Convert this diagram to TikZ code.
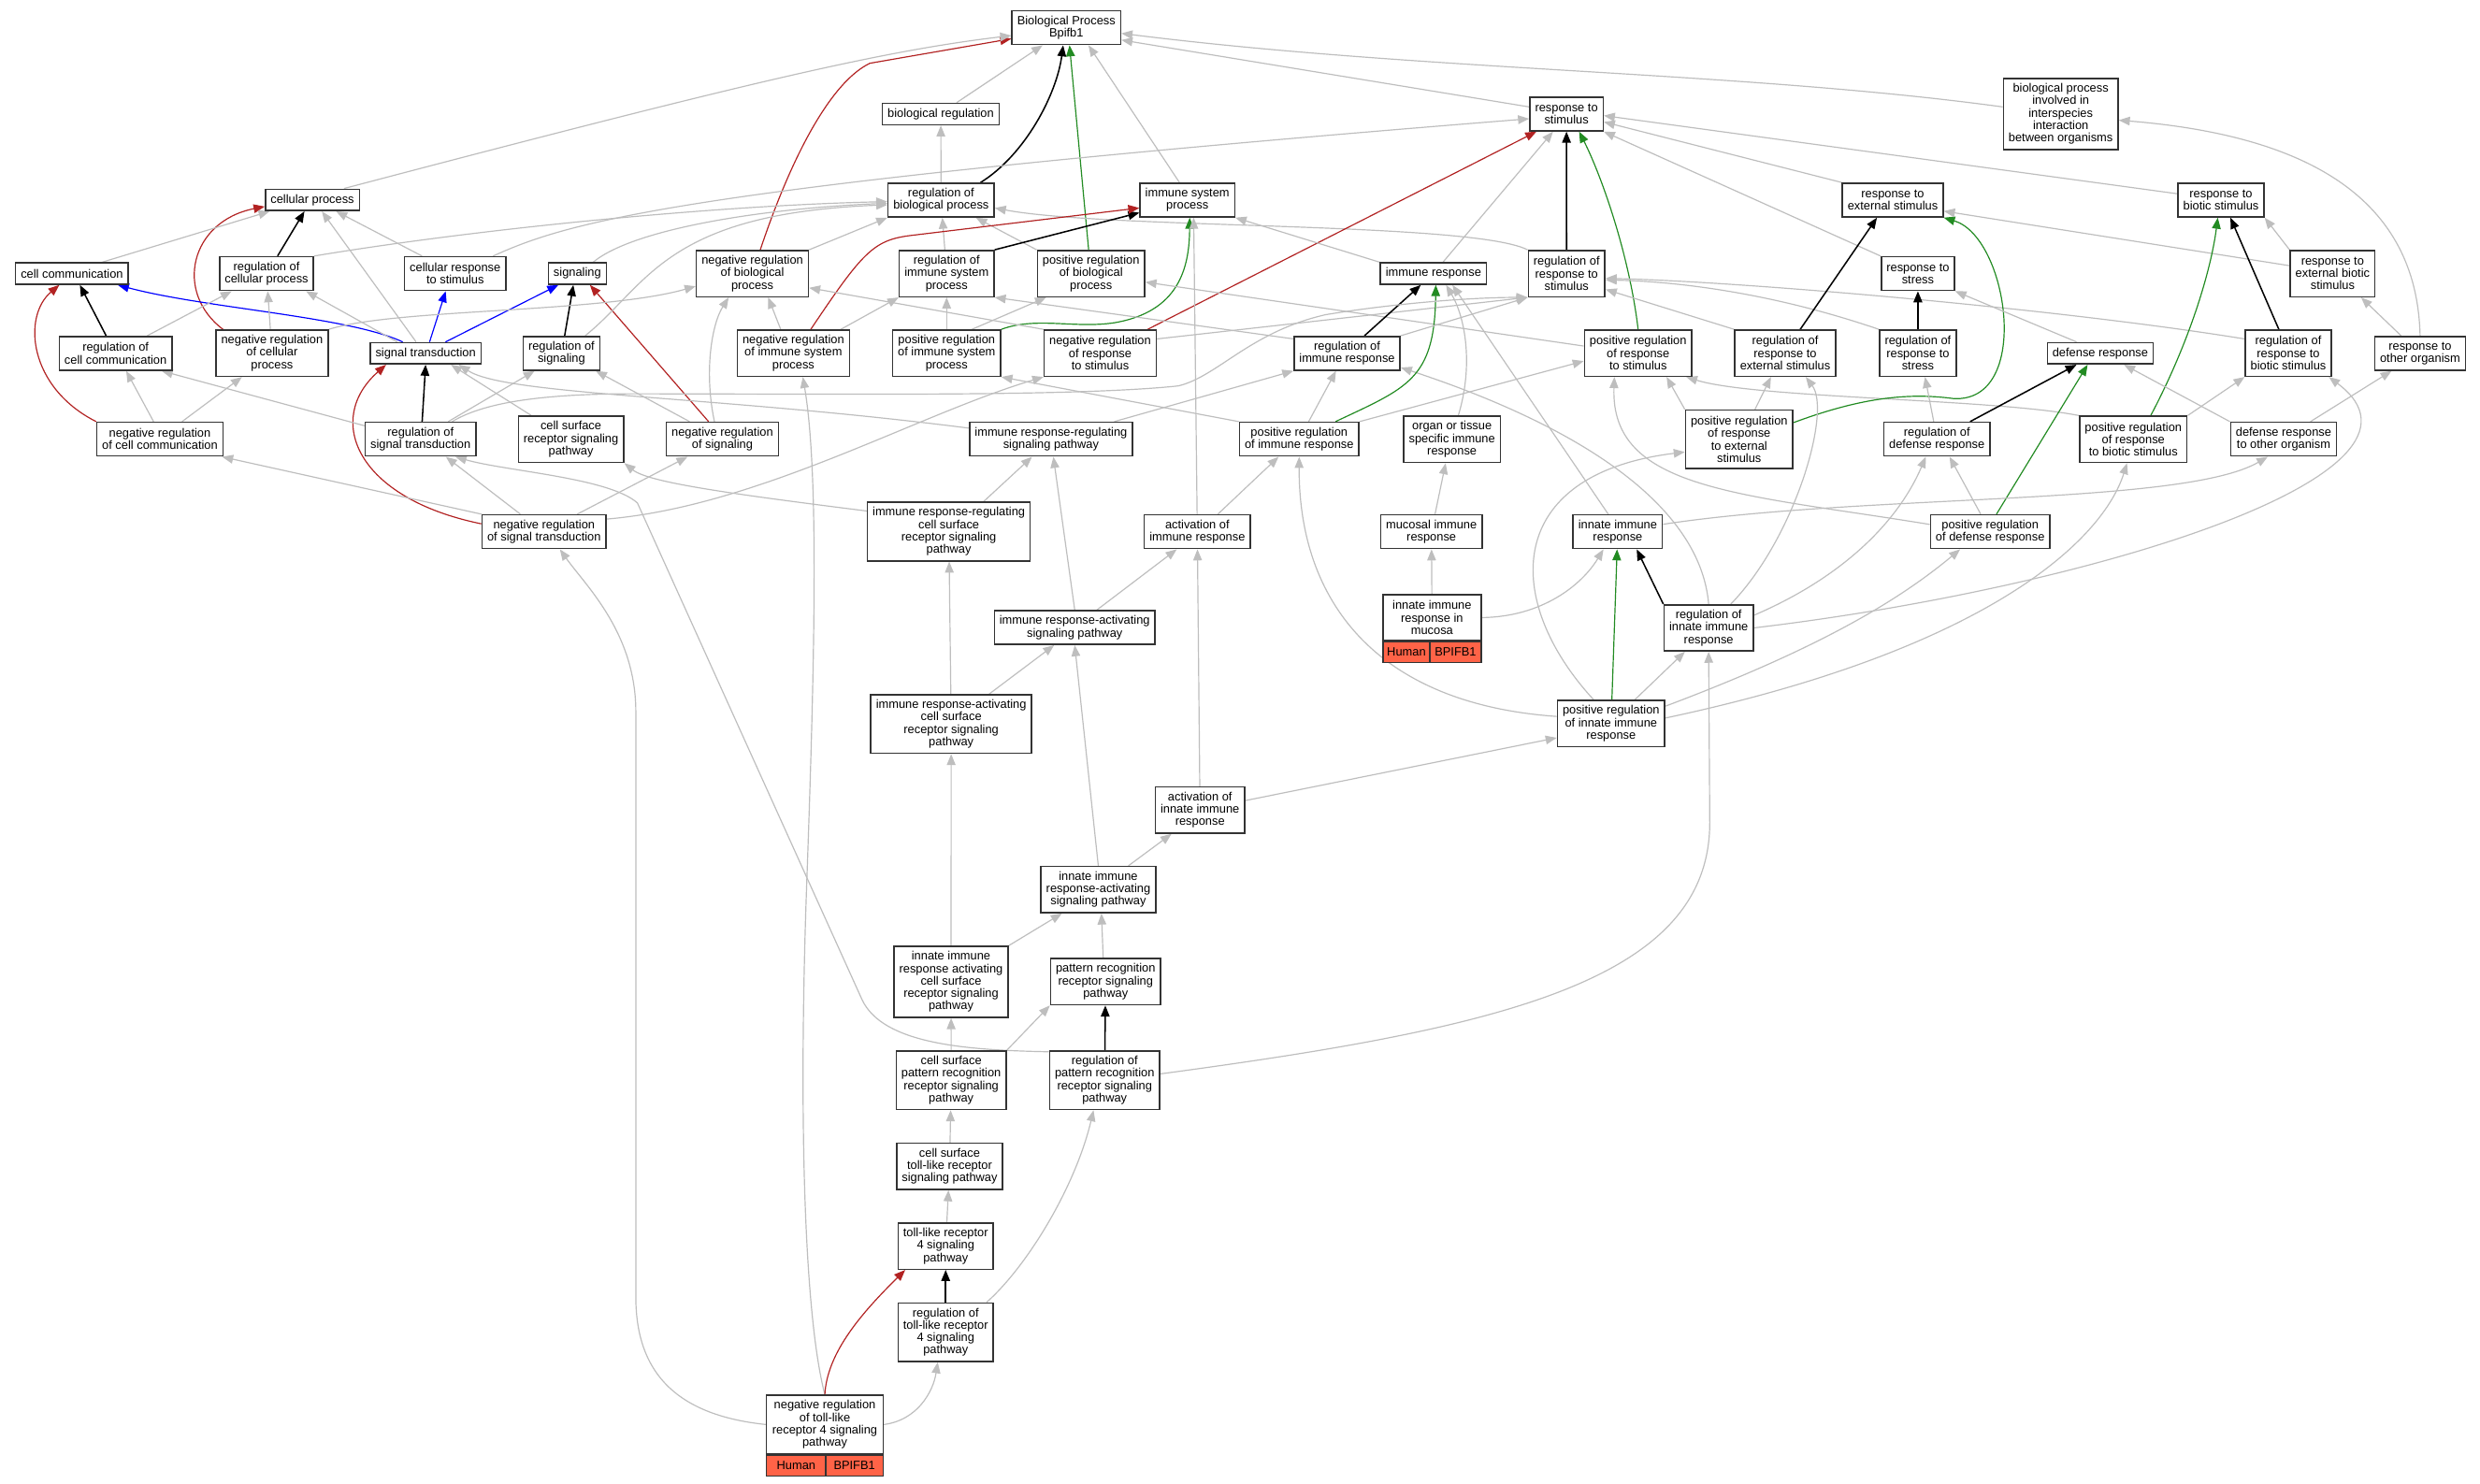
\documentclass[tikz,border=0pt]{standalone}
\usepackage{fontspec}
\setmainfont{Liberation Sans}
\usepackage{tikz}
\usetikzlibrary{shapes, arrows.meta, positioning, backgrounds}
\definecolor{isagray}{HTML}{BEBEBE}
\definecolor{negred}{HTML}{B22222}
\definecolor{posgreen}{HTML}{228B22}
\definecolor{hitred}{HTML}{FF6347}
\tikzstyle{term} = [draw=black!80, line width=0.9pt, fill=white, rectangle,
    align=center, inner xsep=3.3pt, inner ysep=0pt,
    font=\fontsize{7.6}{7.85}\selectfont]
\tikzstyle{one} = [term, minimum height=13.5pt]
\tikzstyle{two} = [term, minimum height=21.35pt]
\tikzstyle{three} = [term, minimum height=29.2pt]
\tikzstyle{four} = [term, minimum height=37.05pt]
\tikzstyle{five} = [term, minimum height=44.9pt]
\tikzstyle{hit} = [term, fill=hitred, inner xsep=1pt, minimum height=12.8pt]
\tikzstyle{isa} = [draw=isagray, line width=0.7pt, ->]
\tikzstyle{reg} = [draw=black, line width=0.9pt, ->]
\tikzstyle{negreg} = [draw=negred, line width=0.7pt, ->]
\tikzstyle{posreg} = [draw=posgreen, line width=0.7pt, ->]
\tikzstyle{partof} = [draw=blue, line width=0.7pt, ->]

\begin{document}
\begin{tikzpicture}[x=1pt, y=-1pt, >={Triangle[length=7pt, width=5.5pt]}]
    \useasboundingbox (0,0) rectangle (1568,938.3);
    \node [two] (bp) at (674.2,17.5) {Biological Process\\Bpifb1};
    \node [one] (breg) at (594.8,72.1) {biological regulation};
    \node [two] (rstim) at (990.4,72.1) {response to\\stimulus};
    \node [five] (inter) at (1302.9,72) {biological process\\involved in\\interspecies\\interaction\\between organisms};
    \node [one] (cellp) at (197.5,126.4) {cellular process};
    \node [two] (rbp) at (595,126.5) {regulation of\\biological process};
    \node [two] (isp) at (750.7,126.5) {immune system\\process};
    \node [two] (rext) at (1196.7,126.5) {response to\\external stimulus};
    \node [two] (rbio) at (1404.2,126.5) {response to\\biotic stimulus};
    \node [one] (ccom) at (45.5,173) {cell communication};
    \node [two] (rcp) at (168.5,173) {regulation of\\cellular process};
    \node [two] (crs) at (287.8,173) {cellular response\\to stimulus};
    \node [one] (sig) at (365,173) {signaling};
    \node [three] (nrbp) at (475.7,173) {negative regulation\\of biological\\process};
    \node [three] (risp) at (598.5,173) {regulation of\\immune system\\process};
    \node [three] (prbp) at (689.8,173) {positive regulation\\of biological\\process};
    \node [one] (ir) at (906.3,173) {immune response};
    \node [three] (rrs) at (990.5,173) {regulation of\\response to\\stimulus};
    \node [two] (rstress) at (1212.6,173) {response to\\stress};
    \node [three] (rextbio) at (1474.8,173) {response to\\external biotic\\stimulus};
    \node [two] (rcc) at (73.1,223.4) {regulation of\\cell communication};
    \node [three] (nrcp) at (172,223.3) {negative regulation\\of cellular\\process};
    \node [one] (st) at (269.1,223.4) {signal transduction};
    \node [two] (rsig) at (355,223.4) {regulation of\\signaling};
    \node [three] (nrisp) at (501.6,223.3) {negative regulation\\of immune system\\process};
    \node [three] (prisp) at (598.5,223.3) {positive regulation\\of immune system\\process};
    \node [three] (nrrs) at (695.6,223.3) {negative regulation\\of response\\to stimulus};
    \node [two] (rir) at (851.7,223.4) {regulation of\\immune response};
    \node [three] (prrs) at (1035.7,223.3) {positive regulation\\of response\\to stimulus};
    \node [three] (rrext) at (1128.7,223.3) {regulation of\\response to\\external stimulus};
    \node [three] (rrstress) at (1212.6,223.3) {regulation of\\response to\\stress};
    \node [one] (def) at (1327.9,223.4) {defense response};
    \node [three] (rrbio) at (1446.8,223.3) {regulation of\\response to\\biotic stimulus};
    \node [two] (roo) at (1530.1,223.4) {response to\\other organism};
    \node [two] (nrcc) at (101.1,277.7) {negative regulation\\of cell communication};
    \node [two] (rst) at (265.9,277.7) {regulation of\\signal transduction};
    \node [three] (csr) at (361,277.8) {cell surface\\receptor signaling\\pathway};
    \node [two] (nrsig) at (456.7,277.7) {negative regulation\\of signaling};
    \node [two] (irrsp) at (664.5,277.7) {immune response-regulating\\signaling pathway};
    \node [two] (prir) at (821.4,277.7) {positive regulation\\of immune response};
    \node [three] (organ) at (918,277.8) {organ or tissue\\specific immune\\response};
    \node [four] (prrext) at (1099.6,277.8) {positive regulation\\of response\\to external\\stimulus};
    \node [two] (rdef) at (1224.6,277.7) {regulation of\\defense response};
    \node [three] (prrbio) at (1348.8,277.8) {positive regulation\\of response\\to biotic stimulus};
    \node [two] (droo) at (1443.8,277.7) {defense response\\to other organism};
    \node [two] (nrst) at (344,336.2) {negative regulation\\of signal transduction};
    \node [four] (irrcs) at (599.9,336.1) {immune response-regulating\\cell surface\\receptor signaling\\pathway};
    \node [two] (air) at (757,336.2) {activation of\\immune response};
    \node [two] (mucosal) at (905,336.2) {mucosal immune\\response};
    \node [two] (iir) at (1022.8,336.2) {innate immune\\response};
    \node [two] (prdef) at (1258.3,336.2) {positive regulation\\of defense response};
    \node [two] (irasp) at (679.5,396.8) {immune response-activating\\signaling pathway};
    \node [three, minimum width=62.1pt] (iirm) at (905.4,390.5) {innate immune\\response in\\mucosa};
    \node [hit, anchor=north west, minimum width=29.7pt] (iirmH) at (iirm.south west) {Human};
    \node [hit, anchor=north east, minimum width=32.4pt] (iirmB) at (iirm.south east) {BPIFB1};
    \node [three] (riir) at (1080.3,397) {regulation of\\innate immune\\response};
    \node [four] (iracs) at (601.4,457.8) {immune response-activating\\cell surface\\receptor signaling\\pathway};
    \node [three] (priir) at (1018.6,457.5) {positive regulation\\of innate immune\\response};
    \node [three] (aiir) at (758.7,512.2) {activation of\\innate immune\\response};
    \node [three] (iirasp) at (694.4,562.5) {innate immune\\response-activating\\signaling pathway};
    \node [five] (iiracs) at (601.3,620.8) {innate immune\\response activating\\cell surface\\receptor signaling\\pathway};
    \node [three] (prr) at (699,620.7) {pattern recognition\\receptor signaling\\pathway};
    \node [four] (csprr) at (601.4,683) {cell surface\\pattern recognition\\receptor signaling\\pathway};
    \node [four] (rprr) at (698.4,683) {regulation of\\pattern recognition\\receptor signaling\\pathway};
    \node [three] (cstlr) at (600.4,737.5) {cell surface\\toll-like receptor\\signaling pathway};
    \node [three] (tlr4) at (597.9,787.9) {toll-like receptor\\4 signaling\\pathway};
    \node [four] (rtlr4) at (597.9,842.3) {regulation of\\toll-like receptor\\4 signaling\\pathway};
    \node [four, minimum width=73.7pt] (nrtlr4) at (521.5,900.7) {negative regulation\\of toll-like\\receptor 4 signaling\\pathway};
    \node [hit, anchor=north west, minimum width=37.4pt, minimum height=13.1pt] (nrtlr4H) at (nrtlr4.south west) {Human};
    \node [hit, anchor=north east, minimum width=36.3pt, minimum height=13.1pt] (nrtlr4B) at (nrtlr4.south east) {BPIFB1};

    \begin{scope}[on background layer]
    \fill [white] (0,0) rectangle (1568,938.3);
    \draw [isa] ([xshift=10pt]breg.north) -- ([xshift=-15pt]bp.south);
    \draw [reg] ([xshift=25pt]rbp.north) .. controls (648,98) and (668,60) .. ([xshift=-2pt]bp.south);
    \draw [posreg] ([xshift=-1.5pt]prbp.north) -- ([xshift=2pt]bp.south);
    \draw [isa] ([xshift=-5pt]isp.north) -- ([xshift=14pt]bp.south);
    \draw [negreg] ([xshift=5pt]nrbp.north) .. controls (500,100) and (525,52) .. (550,40) -- ([yshift=-7pt]bp.west);
    \draw [isa] ([xshift=20pt]cellp.north) .. controls (480,50) and (560,32) .. ([yshift=-5pt]bp.west);
    \draw [isa] ([yshift=4.5pt]rstim.west) -- ([yshift=-7.8pt]bp.east);
    \draw [isa] ([yshift=4.4pt]inter.west) .. controls (1100,45) and (900,45) .. ([yshift=-3.6pt]bp.east);
    \draw [isa] (rbp) -- (breg);
    \draw [reg] ([xshift=7pt]rcp.north) -- ([xshift=-5pt]cellp.south);
    \draw [negreg] ([xshift=-31pt]nrcp.north) .. controls (110,185) and (120,140) .. ([yshift=3pt]cellp.south west);
    \draw [isa] ([xshift=19pt]ccom.north) -- ([xshift=-27pt]cellp.south);
    \draw [isa] ([xshift=-21pt]crs.north) -- ([xshift=15pt]cellp.south);
    \draw [isa] ([xshift=-6pt]st.north) -- ([xshift=6pt]cellp.south);
    \draw [reg] ([xshift=-6pt]rcc.north) -- ([xshift=5pt]ccom.south);
    \draw [negreg] (nrcc.north west) .. controls (18,245) and (14,200) .. ([xshift=-8pt]ccom.south);
    \draw [partof] ([xshift=-14.5pt]st.north) .. controls (220,200) and (130,195) .. ([xshift=29pt]ccom.south);
    \draw [isa] (nrcp) -- (rcp);
    \draw [isa] ([xshift=20pt]rcc.north) -- ([xshift=-22pt]rcp.south);
    \draw [isa] ([xshift=-18pt]st.north) -- ([xshift=25pt]rcp.south);
    \draw [partof] ([xshift=2.5pt]st.north) -- ([xshift=-6pt]crs.south);
    \draw [partof] ([xshift=12.6pt]st.north) -- ([xshift=-12pt]sig.south);
    \draw [reg] ([xshift=2pt]rsig.north) -- ([xshift=-2.5pt]sig.south);
    \draw [negreg] ([xshift=-8.7pt]nrsig.north) -- ([xshift=8pt]sig.south);
    \draw [reg] ([xshift=1pt]rst.north) -- (st.south);
    \draw [negreg] ([yshift=5pt]nrst.west) .. controls (225,315) and (205,265) .. ([xshift=-25pt]st.south);
    \draw [isa] ([xshift=-25pt]csr.north) -- ([xshift=16pt]st.south);
    \draw [isa] ([yshift=7pt]irrsp.west) .. controls (450,250) and (320,250) .. ([xshift=21pt]st.south);
    \draw [isa] ([xshift=-4pt]nrcc.north) -- ([xshift=6.7pt]rcc.south);
    \draw [isa] ([yshift=8.5pt]rst.west) -- ([xshift=-7pt]rcc.south east);
    \draw [isa] ([xshift=14pt]nrcc.north) -- ([xshift=-19pt]nrcp.south);
    \draw [isa] ([xshift=17.5pt]rst.north) -- ([xshift=-17pt]rsig.south);
    \draw [isa] ([xshift=-20.7pt]nrsig.north) -- ([xshift=21.7pt]rsig.south);
    \draw [isa] (rcp.north east) .. controls (300,145) and (450,130) .. ([yshift=-1pt]rbp.west);
    \draw [isa] ([xshift=10pt]sig.north) .. controls (400,145) and (480,132) .. ([yshift=-2pt]rbp.west);
    \draw [isa] ([xshift=15pt]rsig.north) .. controls (410,180) and (420,135) .. ([yshift=-3pt]rbp.west);
    \draw [isa] (nrbp.north east) -- (rbp.south west);
    \draw [isa] (risp) -- (rbp);
    \draw [isa] (prbp.north west) -- ([xshift=22pt]rbp.south);
    \draw [isa] (rrs.north west) .. controls (930,140) and (700,145) .. ([yshift=-5pt]rbp.east);
    \draw [reg] (rrs) -- (rstim);
    \draw [negreg] ([xshift=30pt]nrrs.north) -- ([xshift=-19pt]rstim.south);
    \draw [posreg] (prrs.north) .. controls (1030,160) and (1012,110) .. ([xshift=8pt]rstim.south);
    \draw [isa] ([xshift=6pt]ir.north) -- ([xshift=-8.5pt]rstim.south);
    \draw [isa] ([xshift=24pt]crs.north) .. controls (360,140) and (430,118) .. ([yshift=-3pt]rstim.west);
    \draw [isa] (rext.north west) -- ([yshift=-5pt]rstim.east);
    \draw [isa] (rstress.north west) -- (rstim.south east);
    \draw [isa] ([yshift=4pt]rbio.west) -- ([yshift=-1pt]rstim.east);
    \draw [reg] (risp.north east) -- ([yshift=-8pt]isp.west);
    \draw [negreg] ([xshift=11pt]nrisp.north) .. controls (545,160) and (552,152) .. (575,149) -- ([yshift=-5pt]isp.west);
    \draw [posreg] (prisp.north east) .. controls (655,200) and (680,208) .. (705,204) .. controls (745,197) and (752,170) .. ([xshift=1.5pt]isp.south);
    \draw [isa] (ir.north west) -- (isp.south east);
    \draw [isa] (air) -- ([xshift=4pt]isp.south);
    \draw [isa] ([xshift=-5pt]nrsig.north) .. controls (445,235) and (450,205) .. ([xshift=-15pt]nrbp.south);
    \draw [isa] ([xshift=-8pt]nrisp.north) -- ([xshift=10pt]nrbp.south);
    \draw [isa] (nrcp.north east) .. controls (250,195) and (380,198) .. ([yshift=-8pt]nrbp.west);
    \draw [isa] (nrrs.north west) -- ([yshift=-9pt]nrbp.east);
    \draw [isa] ([xshift=30pt]nrisp.north) -- (risp.south west);
    \draw [isa] (prisp) -- (risp);
    \draw [isa] ([yshift=-2pt]rir.north west) -- (risp.south east);
    \draw [isa] ([xshift=16pt]prisp.north) -- ([xshift=6pt]prbp.south west);
    \draw [isa] ([yshift=4.5pt]prrs.west) -- ([yshift=-5.4pt]prbp.east);
    \draw [isa] ([yshift=8pt]nrst.east) .. controls (480,320) and (580,262) .. (nrrs.south west);
    \draw [isa] ([yshift=9pt]nrrs.east) -- (rrs.south west);
    \draw [isa] ([xshift=40pt]irrsp.north) -- (rir.south west);
    \draw [isa] ([xshift=6pt]prir.north) -- ([xshift=-7pt]rir.south);
    \draw [isa] (riir.north) .. controls (1075,320) and (1000,270) .. ([yshift=-9pt]rir.east);
    \draw [reg] ([xshift=11pt]rir.north) -- ([xshift=-8pt]ir.south);
    \draw [posreg] ([xshift=23pt]prir.north) .. controls (890,245) and (907,240) .. ([xshift=1.5pt]ir.south);
    \draw [isa] ([xshift=4pt]organ.north) .. controls (932,230) and (926,200) .. ([xshift=8pt]ir.south);
    \draw [isa] ([xshift=-6pt]iir.north) -- ([xshift=12pt]ir.south);
    \draw [isa] (prir.north east) -- ([yshift=-5pt]prrs.west);
    \draw [isa] (prrext.north west) -- ([xshift=18pt]prrs.south);
    \draw [isa] ([yshift=4.6pt]prdef.west) .. controls (1100,312) and (1018,310) .. ([xshift=-15pt]prrs.south);
    \draw [isa] (prrbio.north west) .. controls (1260,252) and (1110,252) .. ([xshift=-4pt]prrs.south east);
    \draw [isa] (rrext.north west) -- ([yshift=-10pt]rrs.east);
    \draw [isa] (rrstress.north west) .. controls (1120,185) and (1060,178) .. ([yshift=-4pt]rrs.east);
    \draw [isa] ([yshift=9pt]rrbio.west) .. controls (1300,195) and (1100,178) .. ([yshift=-3pt]rrs.east);
    \draw [isa] ([xshift=20pt]rst.north) .. controls (305,255) and (340,249) .. (400,249) .. controls (520,249) and (680,251) .. (745,244) .. controls (770,238) and (790,210) .. (838,199) .. controls (880,192) and (930,188) .. (rrs.south west);
    \draw [isa] (rir.north east) -- (rrs.south west);
    \draw [reg] ([xshift=9.5pt]rrext.north) -- ([xshift=-10pt]rext.south);
    \draw [posreg] ([yshift=10.6pt]prrext.east) .. controls (1175,252) and (1205,248) .. (1235,252) .. controls (1285,255) and (1270,150) .. (rext.south east);
    \draw [isa] ([yshift=5pt]rextbio.west) -- ([yshift=-7pt]rext.east);
    \draw [reg] ([xshift=-6pt]rrbio.north) -- ([xshift=6pt]rbio.south);
    \draw [posreg] ([xshift=11pt]prrbio.north) .. controls (1385,215) and (1398,170) .. ([xshift=-2pt]rbio.south);
    \draw [isa] (rextbio.north west) -- (rbio.south east);
    \draw [reg] (rrstress) -- (rstress);
    \draw [isa] ([xshift=-15pt]def.north) -- (rstress.south east);
    \draw [isa] ([xshift=-12pt]roo.north) -- ([xshift=18pt]rextbio.south);
    \draw [isa] (roo.north) .. controls (1528,120) and (1450,85) .. ([yshift=-4pt]inter.east);
    \draw [reg] ([xshift=21pt]rdef.north) -- ([xshift=-15pt]def.south);
    \draw [posreg] ([xshift=4pt]prdef.north) -- ([xshift=-8pt]def.south);
    \draw [isa] (droo.north west) -- ([xshift=15pt]def.south);
    \draw [isa] ([xshift=17pt]droo.north) -- ([xshift=-18pt]roo.south);
    \draw [isa] ([xshift=10pt]prrext.north) -- ([xshift=-9pt]rrext.south);
    \draw [isa] ([xshift=14pt]riir.north) .. controls (1135,340) and (1158,260) .. ([xshift=13pt]rrext.south);
    \draw [isa] ([xshift=-2pt]rdef.north) -- ([xshift=4.5pt]rrstress.south);
    \draw [isa] (prrbio.north east) -- (rrbio.south west);
    \draw [isa] (riir.east) .. controls (1320,372) and (1555,300) .. ([xshift=-2pt]rrbio.south east);
    \draw [isa] ([xshift=-6pt]prdef.north) -- ([xshift=8pt]rdef.south);
    \draw [isa] ([yshift=8pt]riir.east) .. controls (1165,365) and (1200,330) .. ([xshift=-7pt]rdef.south);
    \draw [isa] ([yshift=3.5pt]priir.east) .. controls (1260,410) and (1330,340) .. ([xshift=-4pt]prrbio.south);
    \draw [isa] ([yshift=4.7pt]iir.east) .. controls (1180,312) and (1380,320) .. ([xshift=-10pt]droo.south);
    \draw [isa] ([yshift=11pt]priir.east) .. controls (1150,410) and (1200,380) .. ([xshift=-19pt]prdef.south);
    \draw [isa] ([xshift=15pt]priir.north) -- ([xshift=-15pt]riir.south);
    \draw [isa] ([yshift=4pt]rprr.east) .. controls (950,650) and (1081,620) .. (1081,520) -- (riir.south);
    \draw [reg] (riir.north west) -- ([xshift=12pt]iir.south);
    \draw [posreg] (priir) -- (iir);
    \draw [isa] (iirm.east) .. controls (975,390) and (1000,370) .. ([xshift=-9pt]iir.south);
    \draw [isa] ([yshift=6pt]aiir.east) -- ([yshift=-9pt]priir.west);
    \draw [isa] ([xshift=13pt]air.north) -- ([xshift=-13pt]prir.south);
    \draw [isa] ([yshift=4.5pt]priir.west) .. controls (870,445) and (821,380) .. (prir.south);
    \draw [isa] (prir.north west) -- (prisp.south east);
    \draw [isa] (mucosal) -- ([xshift=-4pt]organ.south);
    \draw [isa] (iirm) -- (mucosal);
    \draw [isa] ([xshift=22pt]irrcs.north) -- ([xshift=-12pt]irrsp.south);
    \draw [isa] (irasp.north) -- ([xshift=1.5pt]irrsp.south);
    \draw [isa] ([yshift=13pt]irrcs.west) .. controls (460,312) and (410,305) .. (csr.south east);
    \draw [isa] ([xshift=21pt]nrst.north) -- ([xshift=-22pt]nrsig.south);
    \draw [isa] ([xshift=-15pt]nrst.north) -- ([xshift=16pt]rst.south);
    \draw [isa] ([yshift=-1pt]rprr.north west) .. controls (610,664) and (558,660) .. (545,632) -- (403,318) .. controls (385,302) and (320,298) .. ([xshift=22pt]rst.south);
    \draw [isa] (nrst.north west) -- ([xshift=-1pt]nrcc.south east);
    \draw [isa] (nrtlr4.west) .. controls (430,895) and (402,870) .. (402,820) -- (402,450) .. controls (402,400) and (370,370) .. ([xshift=10pt]nrst.south);
    \draw [isa] (nrtlr4.north) .. controls (508,830) and (505,700) .. (510,560) .. controls (515,420) and (518,300) .. ([xshift=6pt]nrisp.south);
    \draw [reg] (rtlr4) -- (tlr4);
    \draw [negreg] (nrtlr4.north) .. controls (523,855) and (545,830) .. ([xshift=5pt]tlr4.south west);
    \draw [isa] (nrtlr4.east) .. controls (580,898) and (590,880) .. ([xshift=-5pt]rtlr4.south);
    \draw [isa] ([xshift=26pt]rtlr4.north) .. controls (650,800) and (680,750) .. ([xshift=-7pt]rprr.south);
    \draw [isa] (tlr4) -- (cstlr);
    \draw [isa] (cstlr) -- (csprr);
    \draw [reg] (rprr) -- (prr);
    \draw [isa] (csprr.north east) -- (prr.south west);
    \draw [isa] (csprr) -- (iiracs);
    \draw [isa] (iiracs.north east) -- ([xshift=-23pt]iirasp.south);
    \draw [isa] ([xshift=-1.5pt]prr.north) -- ([xshift=2pt]iirasp.south);
    \draw [isa] ([xshift=19pt]iirasp.north) -- ([xshift=-18pt]aiir.south);
    \draw [isa] ([xshift=24pt]iracs.north) -- ([xshift=-13pt]irasp.south);
    \draw [isa] (iirasp.north) -- (irasp.south);
    \draw [isa] ([xshift=14pt]irasp.north) -- ([xshift=-13pt]air.south);
    \draw [isa] (aiir) -- (air);
    \draw [isa] (iracs) -- (irrcs);
    \draw [isa] (iiracs) -- (iracs);
    \draw [isa] ([xshift=-11pt]priir.north) .. controls (950,380) and (950,300) .. ([yshift=-8pt]prrext.west);
    \end{scope}
\end{tikzpicture}
\end{document}
